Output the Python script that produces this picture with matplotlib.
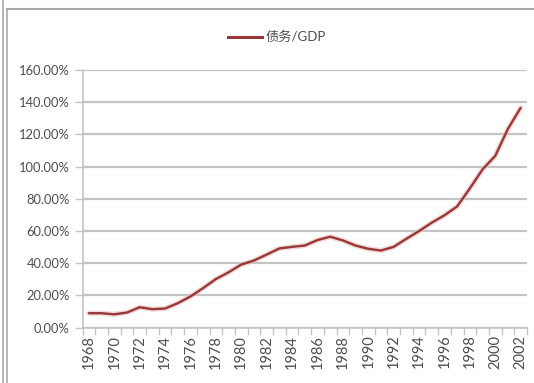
import matplotlib
matplotlib.use("Agg")
import matplotlib.pyplot as plt
from matplotlib.lines import Line2D
from matplotlib.ticker import FixedLocator, FuncFormatter

plt.rcParams['font.family'] = ['Lato', 'Noto Sans CJK SC', 'DejaVu Sans']

years = list(range(1968, 2003))
debt_to_gdp = [9.0, 9.0, 8.3, 9.4, 12.7, 11.5, 11.9, 15.2, 19.4, 24.6,
               30.2, 34.4, 39.2, 41.7, 45.4, 49.2, 50.2, 51.0, 54.4, 56.5,
               54.2, 51.0, 49.0, 47.9, 50.2, 55.2, 60.0, 65.2, 69.8, 75.3,
               86.5, 98.3, 106.7, 123.5, 136.5]
y_ticks = [0, 20, 40, 60, 80, 100, 120, 140, 160]
series_name = "债务/GDP"

W, H = 534, 383
fig = plt.figure(figsize=(W / 100, H / 100), dpi=100)
fig.patch.set_facecolor("white")

ax = fig.add_axes([82.5 / W, (H - 327.7) / H, (527 - 82.5) / W, (327.7 - 70) / H])
n = len(years)
x = list(range(n))

line_color = "#983838"
ax.plot(x, debt_to_gdp, color="#ecc2c0", lw=3.8, alpha=0.6, solid_capstyle="round", zorder=3)
ax.plot(x, debt_to_gdp, color=line_color, lw=1.7, solid_capstyle="round", zorder=4,
        label=series_name)

ax.set_xlim(-0.5, n - 0.5)
ax.set_ylim(0, 160)

grid_color = "#c4c4c4"
text_color = "#4d4d4d"

ax.yaxis.set_major_locator(FixedLocator(y_ticks))
ax.yaxis.set_major_formatter(FuncFormatter(lambda v, p: f"{v:.2f}%"))
ax.grid(axis="y", color=grid_color, lw=1.6, zorder=1)
ax.tick_params(axis="y", length=6, width=1, color=grid_color, labelsize=9.3,
               labelcolor=text_color, pad=3)

# category ticks sit between years, labels on every other year
ax.set_xticks([i - 0.5 for i in range(n + 1)], minor=True)
ax.set_xticks(x[::2])
ax.set_xticklabels([str(y) for y in years[::2]], rotation=90)
ax.tick_params(axis="x", which="major", length=0, labelsize=10.5, labelcolor=text_color, pad=5)
ax.tick_params(axis="x", which="minor", length=5, width=1, color=grid_color, direction="out")

for s in ["top", "right"]:
    ax.spines[s].set_visible(False)
for s in ["left", "bottom"]:
    ax.spines[s].set_color(grid_color)
    ax.spines[s].set_linewidth(1.2)

# legend above the plot
lx0, lx1, ly = 228 / W, 262 / W, (H - 37) / H
fig.add_artist(Line2D([lx0, lx1], [ly, ly], color=line_color, lw=2.2,
                      transform=fig.transFigure))
fig.text(265 / W, ly, series_name, fontsize=9.5, color=text_color,
         ha="left", va="center")

# outer frame lines
frame_color = "#a8a8a8"
fig.add_artist(Line2D([2.5 / W, 2.5 / W], [0, 1], color=frame_color, lw=1.2,
                      transform=fig.transFigure))
fig.add_artist(Line2D([6.5 / W, 6.5 / W], [0, (H - 9) / H], color=frame_color, lw=1.2,
                      transform=fig.transFigure))
fig.add_artist(Line2D([6.5 / W, 1], [(H - 9) / H, (H - 9) / H], color=frame_color, lw=1.5,
                      transform=fig.transFigure))

fig.savefig("out.png", dpi=100, facecolor="white")
